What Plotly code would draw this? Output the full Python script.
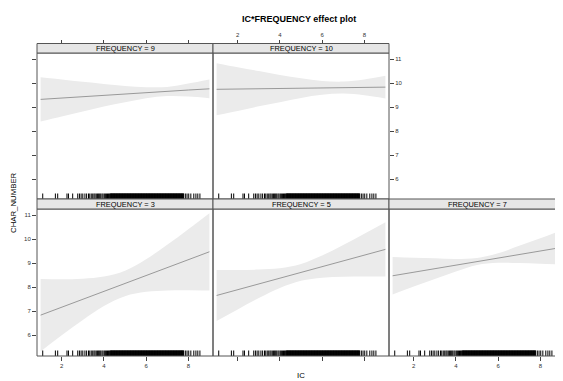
import plotly.graph_objects as go

# ---------------- data ----------------
IC = [1, 2, 3, 4, 5, 6, 7, 8, 9]

strip_labels = ["FREQUENCY = 9", "FREQUENCY = 10", "FREQUENCY = 3",
                "FREQUENCY = 5", "FREQUENCY = 7"]

fit_f9 = [9.33, 9.39, 9.44, 9.50, 9.55, 9.61, 9.66, 9.72, 9.77]
upper_f9 = [10.25, 10.16, 10.06, 9.97, 9.89, 9.84, 9.85, 9.99, 10.16]
lower_f9 = [8.41, 8.62, 8.82, 9.03, 9.21, 9.38, 9.47, 9.45, 9.38]

fit_f10 = [9.75, 9.76, 9.77, 9.78, 9.80, 9.81, 9.82, 9.83, 9.84]
upper_f10 = [10.84, 10.67, 10.51, 10.35, 10.21, 10.10, 10.07, 10.16, 10.31]
lower_f10 = [8.67, 8.85, 9.04, 9.21, 9.39, 9.52, 9.57, 9.50, 9.37]

fit_f3 = [6.84, 7.17, 7.50, 7.83, 8.16, 8.49, 8.82, 9.15, 9.48]
upper_f3 = [8.35, 8.34, 8.36, 8.45, 8.69, 9.17, 9.77, 10.42, 11.09]
lower_f3 = [5.33, 6.00, 6.64, 7.22, 7.63, 7.81, 7.87, 7.88, 7.87]

fit_f5 = [7.66, 7.90, 8.14, 8.38, 8.62, 8.86, 9.10, 9.34, 9.58]
upper_f5 = [8.72, 8.72, 8.74, 8.79, 8.97, 9.32, 9.76, 10.23, 10.71]
lower_f5 = [6.60, 7.08, 7.55, 7.97, 8.27, 8.40, 8.44, 8.45, 8.45]

fit_f7 = [8.48, 8.63, 8.78, 8.92, 9.07, 9.22, 9.37, 9.51, 9.66]
upper_f7 = [9.26, 9.23, 9.21, 9.18, 9.22, 9.42, 9.73, 10.04, 10.37]
lower_f7 = [7.70, 8.03, 8.35, 8.66, 8.93, 9.02, 9.01, 8.98, 8.95]

rug_ic = [1.10, 1.70, 1.81, 2.25, 2.32, 2.52, 2.76, 2.84, 2.92, 3.00, 3.10,
          3.18, 3.27, 3.33, 3.40, 3.47, 3.53, 3.58, 3.64, 3.70, 3.75, 3.80,
          3.85, 3.91, 3.96, 4.02, 4.07, 4.12, 4.17, 4.22, 4.26,
          4.30, 4.32, 4.34, 4.36, 4.38, 4.40, 4.42, 4.44, 4.46, 4.48,
          4.50, 4.52, 4.54, 4.56, 4.58, 4.60, 4.62, 4.64, 4.66, 4.68,
          4.70, 4.72, 4.74, 4.76, 4.78, 4.80, 4.82, 4.84, 4.86, 4.88,
          4.90, 4.92, 4.94, 4.96, 4.98, 5.00, 5.02, 5.04, 5.06, 5.08,
          5.10, 5.12, 5.14, 5.16, 5.18, 5.20, 5.22, 5.24, 5.26, 5.28,
          5.30, 5.32, 5.34, 5.36, 5.38, 5.40, 5.42, 5.44, 5.46, 5.48,
          5.50, 5.52, 5.54, 5.56, 5.58, 5.60, 5.62, 5.64, 5.66, 5.68,
          5.70, 5.72, 5.74, 5.76, 5.78, 5.80, 5.82, 5.84, 5.86, 5.88,
          5.90, 5.92, 5.94, 5.96, 5.98, 6.00, 6.02, 6.04, 6.06, 6.08,
          6.10, 6.12, 6.14, 6.16, 6.18, 6.20, 6.22, 6.24, 6.26, 6.28,
          6.30, 6.32, 6.34, 6.36, 6.38, 6.40, 6.42, 6.44, 6.46, 6.48,
          6.50, 6.52, 6.54, 6.56, 6.58, 6.60, 6.62, 6.64, 6.66, 6.68,
          6.70, 6.72, 6.74, 6.76, 6.78, 6.80, 6.82, 6.84, 6.86, 6.88,
          6.90, 6.92, 6.94, 6.96, 6.98, 7.00, 7.02, 7.04, 7.06, 7.08,
          7.10, 7.12, 7.14, 7.16, 7.18, 7.20, 7.22, 7.24, 7.26, 7.28,
          7.30, 7.32, 7.34, 7.36, 7.38, 7.40, 7.42, 7.44, 7.46, 7.48,
          7.50, 7.52, 7.54, 7.56, 7.58, 7.60, 7.62, 7.64, 7.66, 7.68,
          7.70, 7.72, 7.74, 7.76, 7.78,
          7.86, 7.94, 8.02, 8.12, 8.26, 8.36, 8.45, 8.55]

x_ticks = [2, 4, 6, 8]
y_ticks = [6, 7, 8, 9, 10, 11]

# ---------------- layout geometry (pixels in the browser window) ----------------
WIN_W, WIN_H = 563, 381
OFF = 8                      # default body margin of the html page
W, H = WIN_W - OFF, WIN_H - OFF
FONT = "Liberation Sans, Arial, Helvetica, sans-serif"
BORDER = "#555555"
STRIP_BG = "#e6e6e6"
BAND = "#ebebeb"
LINE = "#999999"
TICK = "#444444"

cols = [(37, 213), (213, 389), (389, 565)]
rows = {"top": (53, 199), "bot": (209, 356)}
strips = {"top": (43.5, 53), "bot": (199, 209)}
px_per_unit_x = 21.1
px_per_unit_y = 24.0
x0 = 0.829
ytop = 11.2625


def fx(px):
    return (px - OFF) / W


def fy(py):
    return 1 - (py - OFF) / H


panels = [
    dict(lab=strip_labels[0], fit=fit_f9, lo=lower_f9, hi=upper_f9, col=0, row="top"),
    dict(lab=strip_labels[1], fit=fit_f10, lo=lower_f10, hi=upper_f10, col=1, row="top"),
    dict(lab=strip_labels[2], fit=fit_f3, lo=lower_f3, hi=upper_f3, col=0, row="bot"),
    dict(lab=strip_labels[3], fit=fit_f5, lo=lower_f5, hi=upper_f5, col=1, row="bot"),
    dict(lab=strip_labels[4], fit=fit_f7, lo=lower_f7, hi=upper_f7, col=2, row="bot"),
]

fig = go.Figure()
shapes = []
annotations = []
layout_axes = {}

for i, p in enumerate(panels):
    n = "" if i == 0 else str(i + 1)
    xa, ya = "x" + n, "y" + n
    c0, c1 = cols[p["col"]]
    r0, r1 = rows[p["row"]]
    c1v = min(c1, WIN_W)
    xr = [x0, x0 + (c1v - c0) / px_per_unit_x]
    yr = [ytop - (r1 - r0) / px_per_unit_y, ytop]

    # confidence band
    fig.add_trace(go.Scatter(x=IC, y=p["lo"], xaxis=xa, yaxis=ya, mode="lines",
                             line=dict(width=0, shape="spline", smoothing=1.0),
                             hoverinfo="skip", showlegend=False))
    fig.add_trace(go.Scatter(x=IC, y=p["hi"], xaxis=xa, yaxis=ya, mode="lines",
                             line=dict(width=0, shape="spline", smoothing=1.0),
                             fill="tonexty", fillcolor=BAND,
                             hoverinfo="skip", showlegend=False))
    # fitted line
    fig.add_trace(go.Scatter(x=IC, y=p["fit"], xaxis=xa, yaxis=ya, mode="lines",
                             line=dict(width=1, color=LINE),
                             hoverinfo="skip", showlegend=False))
    # rug
    rx, ry = [], []
    rug_len = 5.5 / px_per_unit_y
    for v in rug_ic:
        rx += [v, v, None]
        ry += [yr[0], yr[0] + rug_len, None]
    fig.add_trace(go.Scatter(x=rx, y=ry, xaxis=xa, yaxis=ya, mode="lines",
                             line=dict(width=1, color="#000000"),
                             hoverinfo="skip", showlegend=False))

    # axes
    xcfg = dict(domain=[fx(c0), min(fx(c1v), 1)], range=xr, showgrid=False,
                zeroline=False, showline=False, tickvals=x_ticks, ticks="outside",
                ticklen=4, tickwidth=1, tickcolor=TICK,
                tickfont=dict(family=FONT, size=6, color="#333333"))
    ycfg = dict(domain=[fy(r1), fy(r0)], range=yr, showgrid=False, zeroline=False,
                showline=False, tickvals=y_ticks, ticks="outside", ticklen=4,
                tickwidth=1, tickcolor=TICK,
                tickfont=dict(family=FONT, size=6, color="#333333"))
    if p["row"] == "top":
        xcfg.update(anchor="free", position=fy(strips["top"][0]), side="top",
                    showticklabels=(p["col"] == 1))
    else:
        xcfg.update(anchor=ya, side="bottom", showticklabels=(p["col"] != 1))
    if p["col"] == 0:
        ycfg.update(anchor=xa, side="left", showticklabels=(p["row"] == "bot"))
    elif p["col"] == 1 and p["row"] == "top":
        ycfg.update(anchor=xa, side="right", showticklabels=True)
    else:
        ycfg.update(anchor=xa, ticks="", showticklabels=False)
    layout_axes["xaxis" + n] = xcfg
    layout_axes["yaxis" + n] = ycfg

    # panel border
    shapes.append(dict(type="rect", xref="paper", yref="paper",
                       x0=fx(c0), x1=fx(c1), y0=fy(r1), y1=fy(r0),
                       line=dict(color=BORDER, width=1), fillcolor="rgba(0,0,0,0)",
                       layer="above"))
    # strip
    s0, s1 = strips[p["row"]]
    shapes.append(dict(type="rect", xref="paper", yref="paper",
                       x0=fx(c0), x1=fx(c1), y0=fy(s1), y1=fy(s0),
                       line=dict(color=BORDER, width=1), fillcolor=STRIP_BG,
                       layer="above"))
    annotations.append(dict(text=p["lab"], xref="paper", yref="paper",
                            x=fx((c0 + c1) / 2), y=fy((s0 + s1) / 2),
                            xanchor="center", yanchor="middle", showarrow=False,
                            font=dict(family=FONT, size=7.4, color="#000000")))

annotations.append(dict(text="<b>IC*FREQUENCY effect plot</b>", xref="paper", yref="paper",
                        x=fx(299), y=fy(19), xanchor="center", yanchor="middle",
                        showarrow=False, font=dict(family=FONT, size=9, color="#000000")))
annotations.append(dict(text="CHAR_NUMBER", xref="paper", yref="paper",
                        x=fx(13), y=fy(203), xanchor="center", yanchor="middle",
                        textangle=-90, showarrow=False,
                        font=dict(family=FONT, size=7.8, color="#000000")))
annotations.append(dict(text="IC", xref="paper", yref="paper",
                        x=fx(301), y=fy(375), xanchor="center", yanchor="middle",
                        showarrow=False, font=dict(family=FONT, size=7.8, color="#000000")))

fig.update_layout(width=W, height=H, margin=dict(l=0, r=0, t=0, b=0),
                  paper_bgcolor="white", plot_bgcolor="white",
                  shapes=shapes, annotations=annotations, showlegend=False,
                  **layout_axes)

fig.write_html("out.html", config={"displayModeBar": False})
